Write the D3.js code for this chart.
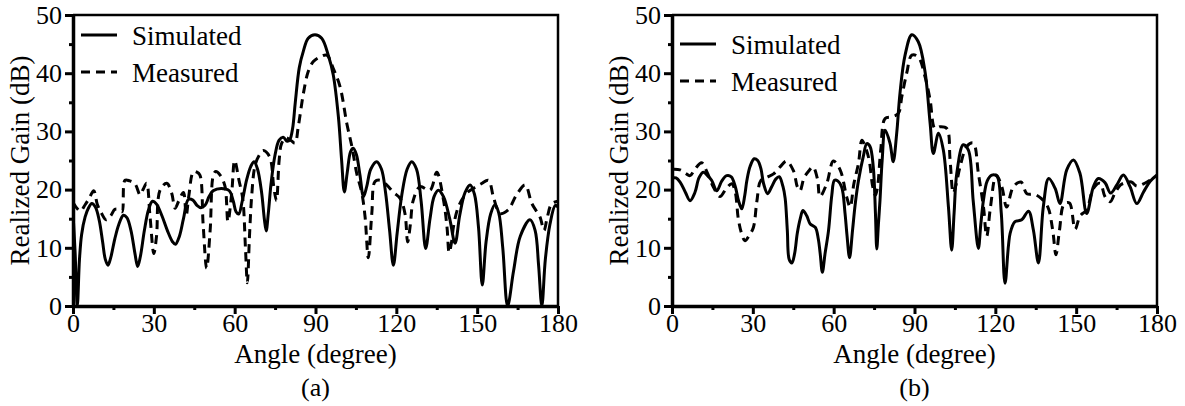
<!DOCTYPE html>
<html>
<head>
<meta charset="utf-8">
<script src="https://cdn.jsdelivr.net/npm/d3@7"></script>
<style>
  body { margin: 0; background: #fff; }
  svg { display: block; }
  text { font-family: "Liberation Serif", "Times New Roman", serif; fill: #000; }
</style>
</head>
<body>
<div id="chart"></div>
<script>
// angle (degree) vs realized gain (dB)
const simA = [[0,16],[0.8,9],[1.6,0],[2.4,8],[3.2,12.3],[4.5,15.3],[5.7,16.8],[7,17.6],[8.3,17],[9.7,14.8],[11,11],[12,8],[13,7],[14,8.3],[15.5,11.5],[17,14],[18.7,15.6],[20,15.2],[21.5,13],[23,9],[24,6.8],[25,8.5],[26.5,13],[28,16.5],[29.5,18],[31,17.5],[33,15.5],[35,13],[37,11],[38,10.6],[39.5,12],[41,15],[42.8,18.3],[44.5,18.2],[46,17.3],[47.5,16.9],[49,17.3],[50.5,18.8],[52,19.8],[55,20.2],[58,19.8],[59.5,18],[60.5,16.2],[61.5,15.8],[62.8,18],[64.5,21.8],[66,24],[67.2,24.8],[68.5,23.5],[70,19.5],[71,15],[71.7,12.9],[72.5,16],[73.5,21],[75,26],[76.5,28.5],[78,29],[79.5,28.3],[80.5,28.6],[81.5,30.5],[82.5,35],[84,41],[85.5,43.8],[87.3,46],[89.8,46.6],[92.3,46],[94.8,43],[96.6,39.7],[98.5,32.5],[99.7,25],[100.7,19.6],[101.8,23],[103,26.5],[104,27.1],[105.2,26],[106.5,22.5],[107.8,18.8],[109,20.5],[110.5,23.5],[112.7,24.8],[114.5,23.5],[116,19.5],[117.5,13],[118.9,7],[120.3,12.5],[122,19],[124,23.5],[125.7,24.8],[127.5,23.5],[129.2,18],[130.9,9.9],[132.5,15],[134,18.8],[135.6,19.9],[137.5,18.8],[139.8,15],[141.8,10.8],[143.5,15.5],[145.5,19.5],[147.4,20.8],[149,19.2],[150.5,13.5],[151.9,3.6],[153.3,11],[155,15.8],[156.6,17.4],[158,16],[159.5,10],[161.3,0],[163.5,6],[166,12],[169.6,14.8],[171.5,13],[172.8,7],[174,0],[175.3,8],[177,14],[179,17.3],[180,17]];

const measA = [[0,17.8],[2.7,16.3],[4.5,17.4],[6,18.5],[7.7,19.8],[9,17.5],[10.5,16],[12.3,14.8],[14,15.5],[15.5,16.6],[17,16.6],[18.2,16.2],[19.3,21.6],[21,21.5],[23,21],[24.9,19.1],[26,20],[27.3,21.1],[28.6,15.3],[30,9],[31,12],[32.3,19.9],[34.8,21.1],[36.6,19.4],[37.9,16.8],[39.2,18],[41,19.5],[42,15.5],[43,19],[44.7,23.1],[46,23],[47.1,22.5],[48.3,14],[49.6,6.5],[50.9,13],[52.1,22.5],[53,23.1],[54.6,22.5],[56.4,20.6],[57.5,14.5],[58.9,19.4],[60,25],[61.6,21.6],[63,18.4],[64,10],[64.7,4],[65.5,12],[66.3,18.8],[67.5,24],[69,25.8],[70.6,26.7],[73,25.6],[74.5,20.5],[75.5,18.1],[76.5,25],[77.4,27.9],[79,28.9],[81,28.4],[82.4,28],[83.6,30.8],[85.5,36.5],[87.3,40.3],[89.2,42],[91.7,42.8],[94.2,43.1],[96.6,40.8],[99.1,37.7],[101.6,31.4],[103.5,27.4],[105.3,22.8],[107.2,19.4],[108.4,15.3],[109.6,8.3],[110.9,15.9],[112.1,21.4],[114,21.6],[116.4,20.8],[119,19.5],[121.4,18.5],[123.2,15.9],[124.2,11],[125.2,14],[126.3,18.2],[128.8,20.5],[132.5,19.9],[135,23],[137.5,18.2],[138.8,13.6],[139.6,9.2],[140.5,11],[141.2,13.6],[143,17],[146.1,19.4],[148.6,20.2],[151.5,21],[154.2,21.6],[156,18.8],[158.5,15.9],[161.5,16.5],[164.5,19],[167.8,20.8],[170.3,17.6],[173.3,15.3],[174.8,13],[176,15.2],[177.7,17.6],[180,18]];

const simB = [[0,22],[1.5,22],[3,21.3],[5,19.5],[6.7,18.1],[8.5,19.5],[10,22],[11.6,23],[13,22.5],[14.7,21.6],[16.6,19.8],[18.5,21.5],[20.3,22.4],[22,22.2],[23.5,20.5],[24.7,18.1],[25.9,16.7],[27,19],[27.8,21.6],[29,24],[30.5,25.3],[31.8,25],[33,23.6],[34,21],[35.5,19.3],[37,20.5],[38.5,21.8],[39.8,22.2],[41.2,20.5],[42,18.5],[42.8,13],[43.5,8],[44.5,7.4],[45.5,9],[46.5,12.5],[47.6,15],[48.6,16.4],[50,15.5],[51.3,14.1],[53.2,13.5],[54.3,11.5],[55,9],[55.8,5.8],[56.8,9],[58.1,13],[59.3,19],[60.3,21.6],[61.5,21.5],[63,20.4],[64.2,16],[64.9,12.4],[65.9,8.3],[67,13],[68,17.5],[69.2,21.5],[71,25.7],[72.3,27.9],[73.5,27.4],[74.7,23.9],[75.5,16],[76,9.8],[76.6,14],[77.2,18.2],[78,25],[79.1,30.2],[80.9,28],[82.1,24.8],[83.4,29.7],[84.6,36.5],[86.5,43.1],[89,46.6],[91.4,45.4],[93.9,40.3],[95.8,31.4],[97,26.2],[98.9,29.7],[100.7,26.8],[102.6,17],[103.8,9.6],[104.7,16],[105.7,22.8],[108.1,27.7],[110,26.8],[111.8,18],[113.7,9.9],[114.6,14],[115.6,18.2],[117,21.5],[118.7,22.5],[120.6,22.3],[122.2,16],[123.6,3.9],[125.5,12.5],[127.3,14.5],[129.8,14.8],[132.3,16.3],[134.1,13.1],[136,7.4],[137.8,17],[139.8,21.9],[142.2,20.2],[144,17.6],[146.5,23.4],[149,25.1],[151.4,22.8],[153.9,15.9],[156.4,20.5],[158.2,21.9],[160.7,21.2],[162.8,19.4],[165.1,20.8],[167.5,22.5],[170,20.5],[172.5,17.6],[175,19.6],[177.4,21.4],[180,22.5]];

const measB = [[0,23.5],[3,23.4],[5,22.8],[6.7,22.4],[8.5,23.5],[11,24.6],[13,23],[15.4,20.4],[17.8,18.8],[20.3,20.3],[22.2,21],[23.5,19.5],[24.6,15],[25.8,12.5],[27.1,11.2],[28.5,12],[30.2,13.5],[31.5,18],[33,21.6],[35.2,22.1],[37.7,22.7],[40.1,23.9],[42.5,24.9],[45.1,23.2],[46.5,20.5],[47.5,19.8],[49,22],[50.6,23.1],[52.3,23.9],[54,21.8],[54.9,18.8],[57.4,21],[59.9,24.9],[62.4,23.4],[64.8,18.8],[66.1,17],[67.5,21],[69.2,24.5],[70.5,28.5],[72,27],[73.2,25],[74.5,20.5],[75.5,19],[76.3,20.5],[77.5,27],[79.1,32.2],[81.5,32.5],[84,33.1],[85.3,36],[87.1,40],[89,43.1],[91.4,42.8],[93.9,39.4],[95.8,35.4],[97.6,30.5],[99.5,30.8],[102,30.5],[103.2,25.1],[104.4,19.4],[105.5,21],[106.9,23.9],[109.4,27.4],[111.8,28],[113.7,22.8],[115.6,17],[116.8,12],[118.2,17],[120.3,22.5],[122.4,20.5],[124.2,17],[126.7,20.5],[129.5,21.3],[131.7,19.3],[134.5,19.2],[137,18.5],[139.5,17],[141.3,13],[142.5,8.8],[143.8,13],[145.5,17.5],[147.5,17.7],[149.6,13.2],[151.5,15.5],[153.9,16.5],[156.4,20.2],[158.9,21.1],[160.7,18.8],[162.6,17.9],[164.4,19.4],[166.5,20.8],[168.5,21.2],[170.5,21.3],[172.5,20.6],[175,21],[177.4,21.6],[180,22.2]];

const xMajor = [0, 30, 60, 90, 120, 150, 180];
const xMinor = [15, 45, 75, 105, 135, 165];
const yMajor = [0, 10, 20, 30, 40, 50];
const yMinor = [5, 15, 25, 35, 45];
const seriesNames = ["Simulated", "Measured"];
const panelLabels = ["(a)", "(b)"];

const W = 1185, H = 406;
const plotW = 485, plotH = 291, plotTop = 15;
const tickFont = 26, titleFont = 27, legendFont = 27;
const dash = "9,6";

const svg = d3.select("#chart").append("svg")
    .attr("width", W)
    .attr("height", H);

const x = d3.scaleLinear().domain([0, 180]).range([0, plotW]);
const y = d3.scaleLinear().domain([0, 50]).range([plotH, 0]);

const line = d3.line()
    .x(d => x(d[0]))
    .y(d => y(d[1]))
    .curve(d3.curveCatmullRom.alpha(0.5));

function drawPanel(left, sim, meas, label, legendTop, idx) {
    const g = svg.append("g").attr("transform", "translate(" + left + "," + plotTop + ")");

    g.append("clipPath").attr("id", "clip" + idx)
        .append("rect").attr("x", 0).attr("y", 0).attr("width", plotW).attr("height", plotH);

    // curves
    const curves = g.append("g").attr("clip-path", "url(#clip" + idx + ")");
    curves.append("path").datum(meas)
        .attr("d", line).attr("fill", "none").attr("stroke", "#000")
        .attr("stroke-width", 3).attr("stroke-dasharray", dash);
    curves.append("path").datum(sim)
        .attr("d", line).attr("fill", "none").attr("stroke", "#000")
        .attr("stroke-width", 3);

    // frame top + right
    g.append("path")
        .attr("d", "M0,0H" + plotW + "V" + plotH)
        .attr("fill", "none").attr("stroke", "#000").attr("stroke-width", 2.5);

    // x axis
    const xa = g.append("g").attr("transform", "translate(0," + plotH + ")")
        .call(d3.axisBottom(x).tickValues(xMajor).tickSize(8).tickSizeOuter(0));
    g.append("g").attr("transform", "translate(0," + plotH + ")")
        .call(d3.axisBottom(x).tickValues(xMinor).tickSize(4).tickFormat(""))
        .call(a => a.select(".domain").remove());

    // y axis
    g.append("g")
        .call(d3.axisLeft(y).tickValues(yMajor).tickSize(8).tickSizeOuter(0).tickPadding(3));
    g.append("g")
        .call(d3.axisLeft(y).tickValues(yMinor).tickSize(4).tickFormat(""))
        .call(a => a.select(".domain").remove());

    g.selectAll(".domain").attr("stroke-width", 3.5);
    g.selectAll(".tick line").attr("stroke-width", 3);
    g.selectAll(".tick text")
        .style("font-family", "'Liberation Serif', 'Times New Roman', serif")
        .style("font-size", tickFont + "px");
    xa.selectAll(".tick text").attr("dy", null).attr("y", 26);

    // axis titles
    g.append("text")
        .attr("transform", "translate(-44," + plotH / 2 + ") rotate(-90)")
        .attr("text-anchor", "middle")
        .style("font-size", titleFont + "px")
        .text("Realized Gain (dB)");
    g.append("text")
        .attr("x", plotW / 2).attr("y", plotH + 57)
        .attr("text-anchor", "middle")
        .style("font-size", titleFont + "px")
        .text("Angle (degree)");
    g.append("text")
        .attr("x", plotW / 2).attr("y", plotH + 90)
        .attr("text-anchor", "middle")
        .style("font-size", tickFont + "px")
        .text(label);

    // legend
    const leg = g.append("g").attr("transform", "translate(8," + legendTop + ")");
    seriesNames.forEach((name, i) => {
        leg.append("line")
            .attr("x1", 0).attr("x2", 36)
            .attr("y1", i * 37).attr("y2", i * 37)
            .attr("stroke", "#000").attr("stroke-width", 3)
            .attr("stroke-dasharray", i === 1 ? dash : null);
        leg.append("text")
            .attr("x", 51).attr("y", i * 37 + 10)
            .style("font-size", legendFont + "px")
            .text(name);
    });
}

drawPanel(73, simA, measA, panelLabels[0], 20, 0);
drawPanel(672, simB, measB, panelLabels[1], 29, 1);
</script>
</body>
</html>
